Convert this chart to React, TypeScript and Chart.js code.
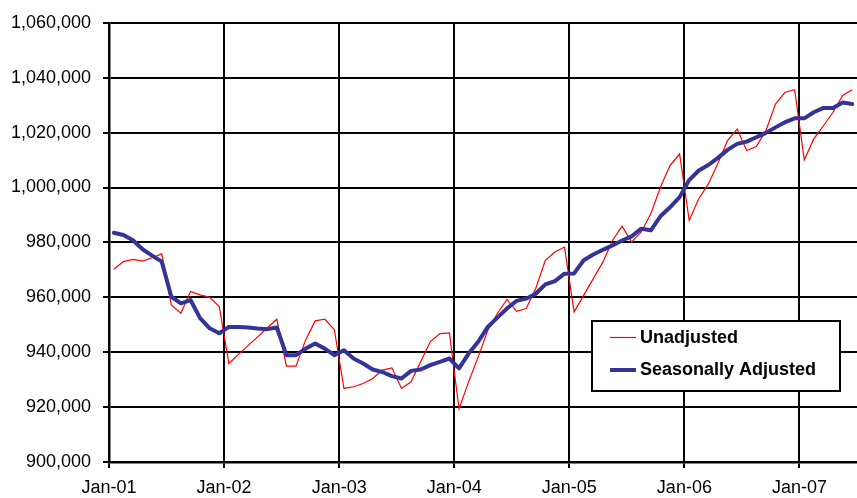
import React, { useEffect, useRef } from "react";
import { Chart, registerables } from "chart.js";

Chart.register(...registerables);

// Year tick labels (every 12 months, starting Jan-2001)
const yearLabels = ["Jan-01", "Jan-02", "Jan-03", "Jan-04", "Jan-05", "Jan-06", "Jan-07"];

// Monthly values, Jan-2001 .. Jun-2007
const unadjusted = [
  970200, 973000, 973800, 973200, 974400, 975800, 957200, 954200, 962100, 960900, 960000, 956600,
  935900, 939200, 942400, 945600, 948800, 952000, 934900, 934900, 944400, 951400, 952000, 948200,
  926800, 927400, 928600, 930400, 933500, 934300, 926800, 929200, 936500, 943800, 946800, 947000,
  919400, 929200, 938300, 948000, 954100, 959200, 954900, 955900, 963200, 973500, 976500, 978300,
  954700, 960700, 966800, 972800, 980700, 985900, 980100, 983800, 990400, 1000100, 1008000, 1012200,
  988000, 995900, 1001300, 1008800, 1017100, 1021300, 1013500, 1014900, 1020700, 1030400, 1034700, 1035600,
  1010100, 1017700, 1022500, 1027400, 1033500, 1035600,
];

const seasonallyAdjusted = [
  983500, 982700, 980800, 977500, 975200, 973000, 960200, 957800, 959000, 952400, 948700, 946900,
  949200, 949200, 949000, 948600, 948400, 949000, 938900, 938900, 941300, 943200, 941300, 938900,
  940700, 937700, 935900, 933700, 932800, 931300, 930400, 933200, 933700, 935300, 936500, 937700,
  934100, 939500, 943800, 949200, 952600, 955900, 958700, 959500, 961300, 964700, 965900, 968600,
  968700, 973500, 975600, 977300, 978900, 980700, 982200, 985000, 984400, 989500, 992800, 996500,
  1002700, 1006200, 1008200, 1010800, 1013700, 1015900, 1016700, 1018300, 1019900, 1021900, 1023800, 1025200,
  1025200, 1027400, 1029000, 1029000, 1031000, 1030400,
];

const yMin = 900000;
const yMax = 1060000;
const yStep = 20000;
const monthsShown = 78;

const toPoints = (arr: number[]) => arr.map((v, i) => ({ x: i + 0.5, y: v }));

export default function App() {
  const ref = useRef<HTMLCanvasElement>(null);

  useEffect(() => {
    if (!ref.current) return;
    const FONT = "'Liberation Sans', Arial, Helvetica, sans-serif";

    const boxLegend = {
      id: "boxLegend",
      afterDraw(chart: any) {
        const ctx = chart.ctx as CanvasRenderingContext2D;
        const x0 = 592, y0 = 321, w = 248, h = 70;
        ctx.save();
        ctx.fillStyle = "#ffffff";
        ctx.fillRect(x0, y0, w, h);
        ctx.strokeStyle = "#000000";
        ctx.lineWidth = 2;
        ctx.strokeRect(x0, y0, w, h);
        ctx.font = `bold 18px ${FONT}`;
        ctx.textBaseline = "middle";
        ctx.textAlign = "left";
        const rows = [y0 + 16.5, y0 + 49];
        chart.data.datasets.forEach((ds: any, i: number) => {
          const y = rows[i];
          ctx.strokeStyle = ds.borderColor;
          ctx.lineWidth = ds.borderWidth;
          ctx.lineCap = "butt";
          ctx.beginPath();
          ctx.moveTo(x0 + 18, y);
          ctx.lineTo(x0 + 44, y);
          ctx.stroke();
          ctx.fillStyle = "#000000";
          ctx.fillText(ds.label, x0 + 48, y + 0.5);
        });
        ctx.restore();
      },
    };

    const chart = new Chart(ref.current, {
      type: "line",
      data: {
        datasets: [
          {
            label: "Unadjusted",
            data: toPoints(unadjusted),
            borderColor: "#ff0000",
            borderWidth: 1.2,
            pointRadius: 0,
            tension: 0,
            order: 2,
          },
          {
            label: "Seasonally Adjusted",
            data: toPoints(seasonallyAdjusted),
            borderColor: "#333399",
            borderWidth: 4,
            pointRadius: 0,
            tension: 0,
            borderJoinStyle: "round",
            borderCapStyle: "round",
            order: 1,
          },
        ],
      },
      options: {
        responsive: false,
        animation: false,
        layout: { padding: { top: 22, right: 0, left: 0, bottom: 0 } },
        plugins: {
          legend: { display: false },
          tooltip: { enabled: false },
        },
        scales: {
          x: {
            type: "linear",
            min: 0,
            max: monthsShown,
            afterBuildTicks: (scale: any) => {
              scale.ticks = yearLabels.map((_, i) => ({ value: i * 12 }));
            },
            afterFit: (scale: any) => {
              scale.height = 36;
            },
            ticks: {
              autoSkip: false,
              maxRotation: 0,
              padding: 9,
              color: "#000000",
              font: { family: FONT, size: 18 },
              callback: (v: any) => yearLabels[Math.round(Number(v) / 12)] ?? "",
            },
            grid: {
              color: "#000000",
              lineWidth: 2,
              tickLength: 6,
              drawTicks: true,
            },
            border: { display: true, color: "#000000", width: 2.5 },
          },
          y: {
            min: yMin,
            max: yMax,
            afterFit: (scale: any) => {
              scale.width = 109;
            },
            ticks: {
              stepSize: yStep,
              padding: 12,
              color: "#000000",
              font: { family: FONT, size: 18 },
              callback: (v: any) => Number(v).toLocaleString("en-US"),
            },
            grid: {
              color: "#000000",
              lineWidth: 2,
              tickLength: 6,
              drawTicks: true,
            },
            border: { display: true, color: "#000000", width: 2.5 },
          },
        },
      },
      plugins: [boxLegend],
    } as any);

    return () => chart.destroy();
  }, []);

  return (
    <div style={{ position: "absolute", left: 0, top: 0, width: 857, height: 498, background: "#ffffff" }}>
      <canvas ref={ref} width={857} height={498} style={{ display: "block" }} />
    </div>
  );
}
